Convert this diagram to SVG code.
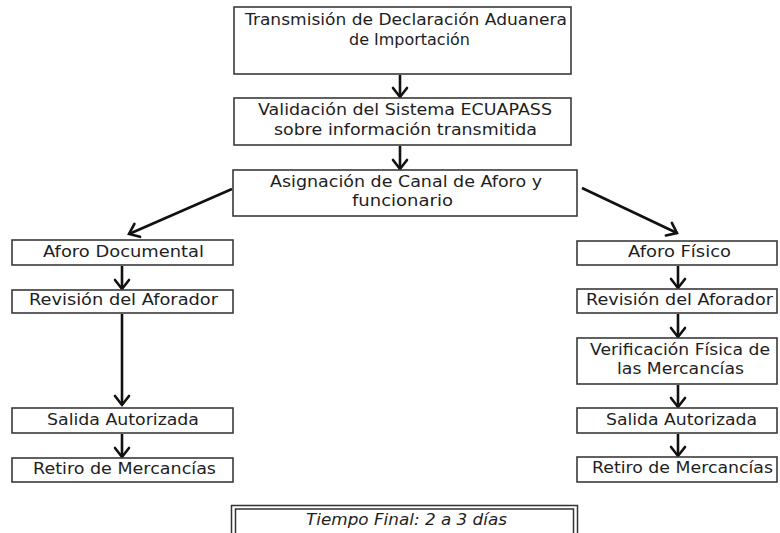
<svg xmlns="http://www.w3.org/2000/svg" width="780" height="533" viewBox="0 0 780 533">
<defs>
<marker id="ah" markerUnits="userSpaceOnUse" markerWidth="14" markerHeight="18" viewBox="0 0 14 18" refX="11" refY="9" orient="auto">
<path d="M2,2 L11,9 L2,16" fill="none" stroke="#111" stroke-width="2.6" stroke-linecap="round" stroke-linejoin="miter"/>
</marker>
<style>
.box{fill:#fff;stroke:#3a3a3a;stroke-width:1.6}
.t{font-family:"DejaVu Sans","Liberation Sans",sans-serif;font-size:15.5px;fill:#1e1e1e;text-anchor:start}
.c{fill:none;stroke:#111;stroke-width:2.6}
.it{font-family:"DejaVu Sans","Liberation Sans",sans-serif;font-size:15px;font-style:italic;fill:#1e1e1e}
</style>
</defs>
<rect width="780" height="533" fill="#fff"/>
<g id="connectors">
<line class="c" x1="400" y1="75" x2="400" y2="97" marker-end="url(#ah)"/>
<line class="c" x1="400" y1="146" x2="400" y2="169" marker-end="url(#ah)"/>
<line class="c" x1="232" y1="189" x2="129" y2="234" marker-end="url(#ah)"/>
<line class="c" x1="582" y1="188" x2="677" y2="233" marker-end="url(#ah)"/>
<line class="c" x1="122" y1="266" x2="122" y2="289" marker-end="url(#ah)"/>
<line class="c" x1="122" y1="314" x2="122" y2="405" marker-end="url(#ah)"/>
<line class="c" x1="122" y1="434" x2="122" y2="457" marker-end="url(#ah)"/>
<line class="c" x1="678" y1="266" x2="678" y2="288" marker-end="url(#ah)"/>
<line class="c" x1="678" y1="314" x2="678" y2="337" marker-end="url(#ah)"/>
<line class="c" x1="678" y1="385" x2="678" y2="407" marker-end="url(#ah)"/>
<line class="c" x1="678" y1="434" x2="678" y2="456" marker-end="url(#ah)"/>
</g>
<g id="n1"><rect class="box" x="234" y="7" width="337" height="67"/>
<text class="t" x="245" y="25" textLength="322" lengthAdjust="spacingAndGlyphs">Transmisión de Declaración Aduanera</text>
<text class="t" x="349" y="45" textLength="121" lengthAdjust="spacingAndGlyphs">de Importación</text></g>
<g id="n2"><rect class="box" x="234" y="98" width="337" height="47"/>
<text class="t" x="258" y="115" textLength="294" lengthAdjust="spacingAndGlyphs">Validación del Sistema ECUAPASS</text>
<text class="t" x="274" y="135" textLength="263" lengthAdjust="spacingAndGlyphs">sobre información transmitida</text></g>
<g id="n3"><rect class="box" x="233" y="170" width="344" height="46"/>
<text class="t" x="270" y="187" textLength="272" lengthAdjust="spacingAndGlyphs">Asignación de Canal de Aforo y</text>
<text class="t" x="352" y="206" textLength="101" lengthAdjust="spacingAndGlyphs">funcionario</text></g>
<g id="n4"><rect class="box" x="12" y="240" width="221" height="25"/>
<text class="t" x="43" y="257" textLength="161" lengthAdjust="spacingAndGlyphs">Aforo Documental</text></g>
<g id="n5"><rect class="box" x="12" y="290" width="221" height="23"/>
<text class="t" x="29" y="305" textLength="189" lengthAdjust="spacingAndGlyphs">Revisión del Aforador</text></g>
<g id="n6"><rect class="box" x="12" y="408" width="221" height="25"/>
<text class="t" x="47" y="425" textLength="152" lengthAdjust="spacingAndGlyphs">Salida Autorizada</text></g>
<g id="n7"><rect class="box" x="12" y="458" width="221" height="24"/>
<text class="t" x="33" y="474" textLength="183" lengthAdjust="spacingAndGlyphs">Retiro de Mercancías</text></g>
<g id="n8"><rect class="box" x="577" y="241" width="200" height="24"/>
<text class="t" x="628" y="257" textLength="103" lengthAdjust="spacingAndGlyphs">Aforo Físico</text></g>
<g id="n9"><rect class="box" x="577" y="289" width="200" height="24"/>
<text class="t" x="586" y="305" textLength="187" lengthAdjust="spacingAndGlyphs">Revisión del Aforador</text></g>
<g id="n10"><rect class="box" x="577" y="338" width="200" height="46"/>
<text class="t" x="590" y="355" textLength="180" lengthAdjust="spacingAndGlyphs">Verificación Física de</text>
<text class="t" x="617" y="374" textLength="127" lengthAdjust="spacingAndGlyphs">las Mercancías</text></g>
<g id="n11"><rect class="box" x="577" y="408" width="200" height="25"/>
<text class="t" x="606" y="425" textLength="151" lengthAdjust="spacingAndGlyphs">Salida Autorizada</text></g>
<g id="n12"><rect class="box" x="577" y="457" width="200" height="25"/>
<text class="t" x="592" y="473" textLength="181" lengthAdjust="spacingAndGlyphs">Retiro de Mercancías</text></g>
<g id="n13">
<rect x="231.5" y="505.5" width="346" height="40" fill="#fff" stroke="#333" stroke-width="1.5"/>
<rect x="235.5" y="509" width="338" height="36" fill="none" stroke="#333" stroke-width="1.5"/>
<text class="it" x="306" y="525" textLength="201" lengthAdjust="spacingAndGlyphs">Tiempo Final: 2 a 3 días</text>
</g>
</svg>
